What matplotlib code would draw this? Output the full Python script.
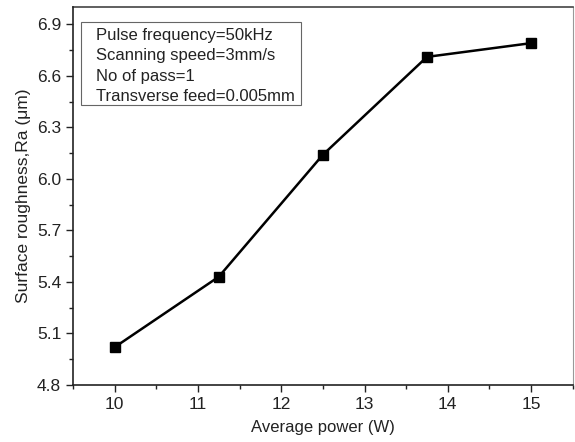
import matplotlib
matplotlib.use("Agg")
import matplotlib.pyplot as plt
from matplotlib.ticker import MultipleLocator
from matplotlib.patches import Rectangle

power = [10, 11.25, 12.5, 13.75, 15]
roughness = [5.02, 5.43, 6.14, 6.71, 6.79]
info_lines = ["Pulse frequency=50kHz", "Scanning speed=3mm/s", "No of pass=1", "Transverse feed=0.005mm"]

plt.rcParams['font.family'] = ['Liberation Sans', 'DejaVu Sans']
fig = plt.figure(figsize=(5.75, 4.42), dpi=100)
ax = fig.add_axes([0.127, 0.129, 0.869, 0.855])
ax.plot(power, roughness, color='black', lw=1.8, marker='s', ms=7.5, mfc='black', mec='black')
ax.set_xlim(9.5, 15.5)
ax.set_ylim(4.8, 7.0)
ax.xaxis.set_major_locator(MultipleLocator(1))
ax.xaxis.set_minor_locator(MultipleLocator(0.5))
ax.yaxis.set_minor_locator(MultipleLocator(0.15))
ax.set_yticks([4.8, 5.1, 5.4, 5.7, 6.0, 6.3, 6.6, 6.9])
ax.tick_params(which='major', length=5, width=1, labelsize=12.5, direction='out', colors='#222222')
ax.tick_params(which='minor', length=3, width=1, direction='out', colors='#222222')
for s in ['top', 'right']:
    ax.spines[s].set_visible(False)
for s in ['left', 'bottom']:
    ax.spines[s].set_linewidth(1.2)
    ax.spines[s].set_color('#222222')
ax.plot([1, 1], [0, 1], transform=ax.transAxes, color='#999999', lw=0.8, clip_on=False)
ax.plot([0, 1], [1, 1], transform=ax.transAxes, color='#444444', lw=1.2, clip_on=False)
ax.set_xlabel("Average power (W)", fontsize=12, labelpad=6, color='#222222')
ax.set_ylabel("Surface roughness,Ra (\u03bcm)", fontsize=12.5, labelpad=4, color='#222222')
ax.add_patch(Rectangle((0.016, 0.741), 0.44, 0.219, transform=ax.transAxes,
                       fc='white', ec='#666666', lw=0.8, zorder=3))
ax.text(0.046, 0.944, "\n".join(info_lines), transform=ax.transAxes, fontsize=12,
        va='top', ha='left', linespacing=1.43, color='#222222', zorder=4)
fig.savefig("out.png", dpi=100)
